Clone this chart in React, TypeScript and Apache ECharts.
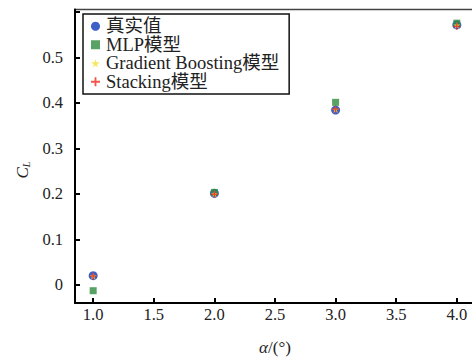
import React, { useEffect, useRef } from "react";
import * as echarts from "echarts";

const alphaDeg = [1.0, 2.0, 3.0, 4.0];
const trueCL = [0.02, 0.201, 0.384, 0.571];
const mlpCL = [-0.013, 0.203, 0.401, 0.575];
const gbCL = [0.019, 0.2, 0.385, 0.57];
const stackCL = [0.019, 0.199, 0.386, 0.568];
const seriesNames = ["真实值", "MLP模型", "Gradient Boosting模型", "Stacking模型"];

const PLUS = "path://M4,0h2v4h4v2h-4v4h-2v-4h-4v-2h4z";
const STAR = "path://M50,0L61,35L98,35L68,57L79,91L50,70L21,91L32,57L2,35L39,35Z";
const FONT = "'Liberation Serif', 'Times New Roman', 'Noto Sans CJK SC', serif";

export default function App() {
  const ref = useRef<HTMLDivElement>(null);
  useEffect(() => {
    if (!ref.current) return;
    const chart = echarts.init(ref.current, null, { renderer: "svg" });
    const pts = (ys: number[]) => alphaDeg.map((x, i) => [x, ys[i]]);
    chart.setOption({
      animation: false,
      textStyle: { fontFamily: FONT },
      grid: {
        left: 75,
        top: 9.5,
        right: 5,
        bottom: 54,
        outerBoundsMode: "none",
        containLabel: false,
        show: true,
        borderColor: "#444",
        borderWidth: 1.5,
      },
      legend: {
        orient: "vertical",
        left: 83,
        top: 14,
        padding: [3, 10, 3, 8],
        itemGap: 0,
        itemWidth: 9,
        itemHeight: 9,
        borderColor: "#111",
        borderWidth: 1.5,
        backgroundColor: "#fff",
        textStyle: { fontFamily: FONT, fontSize: 18.5, color: "#222", padding: [0, 0, 0, 1] },
        data: seriesNames,
      },
      xAxis: {
        type: "value",
        min: 0.85,
        max: 4.15,
        splitNumber: 7,
        name: "{i|α}/(°)",
        nameLocation: "middle",
        nameGap: 36,
        nameTextStyle: {
          fontFamily: FONT,
          fontSize: 17,
          color: "#222",
          rich: { i: { fontStyle: "italic", fontFamily: FONT, fontSize: 17, color: "#222" } },
        },
        axisLine: { show: true, onZero: false, lineStyle: { color: "#000", width: 2 } },
        axisTick: { show: true, inside: true, length: 5, lineStyle: { color: "#000", width: 2 } },
        axisLabel: {
          fontFamily: FONT,
          fontSize: 16.5,
          color: "#222",
          margin: 3,
          showMinLabel: false,
          showMaxLabel: false,
          formatter: (v: number) => v.toFixed(1),
        },
        splitLine: { show: false },
      },
      yAxis: {
        type: "value",
        min: -0.04,
        max: 0.605,
        splitNumber: 6,
        axisLine: { show: true, onZero: false, lineStyle: { color: "#000", width: 2 } },
        axisTick: { show: true, inside: true, length: 5, lineStyle: { color: "#000", width: 2 } },
        axisLabel: {
          fontFamily: FONT,
          fontSize: 16.5,
          color: "#222",
          margin: 12,
          showMinLabel: false,
          showMaxLabel: false,
          formatter: (v: number) => (Math.abs(v) < 1e-9 ? "0" : v > 0.55 ? "" : v.toFixed(1)),
        },
        splitLine: { show: false },
      },
      graphic: [
        {
          type: "text",
          x: 22,
          y: 170,
          rotation: Math.PI / 2,
          style: {
            text: "{i|C}{s|L}",
            align: "center",
            verticalAlign: "middle",
            rich: {
              i: { fontStyle: "italic", fontFamily: FONT, fontSize: 17, fill: "#222" },
              s: { fontStyle: "italic", fontFamily: FONT, fontSize: 10, fill: "#222", padding: [8, 0, 0, 0] },
            },
          },
        },
      ],
      series: [
        {
          name: seriesNames[0],
          type: "scatter",
          symbol: "circle",
          symbolSize: 9,
          itemStyle: { color: "#2a4fc0", opacity: 0.9 },
          data: pts(trueCL),
        },
        {
          name: seriesNames[1],
          type: "scatter",
          symbol: "rect",
          symbolSize: 7,
          itemStyle: { color: "#2e8b3e" },
          data: pts(mlpCL),
        },
        {
          name: seriesNames[2],
          type: "scatter",
          symbol: STAR,
          symbolSize: 7,
          itemStyle: { color: "#f2e33a" },
          data: pts(gbCL),
        },
        {
          name: seriesNames[3],
          type: "scatter",
          symbol: PLUS,
          symbolSize: 7,
          itemStyle: { color: "#ee2a1e" },
          data: pts(stackCL),
        },
      ],
    });
    return () => chart.dispose();
  }, []);
  return (
    <div style={{ position: "fixed", left: 0, top: 0, width: 472, height: 357, overflow: "hidden", background: "#fff" }}>
      <div ref={ref} style={{ width: 480, height: 357 }} />
    </div>
  );
}
